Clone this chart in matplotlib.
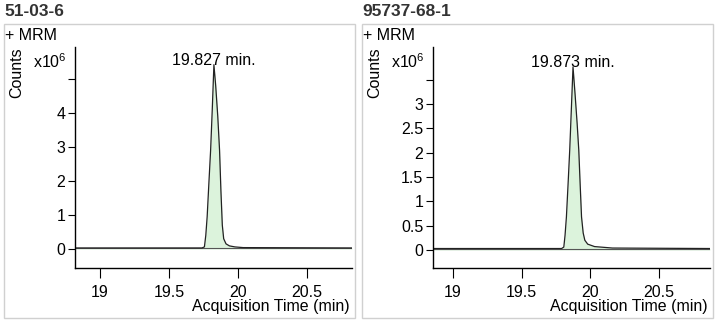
import numpy as np
import matplotlib.pyplot as plt
from matplotlib.patches import Rectangle

# data (intensity in units of 1e6 counts)
titles = ["51-03-6", "95737-68-1"]
rt_labels = ["19.827 min.", "19.873 min."]

t_a = [18.82, 19.74, 19.758, 19.768, 19.778, 19.79, 19.803, 19.815, 19.827, 19.84,
       19.855, 19.868, 19.878, 19.888, 19.898, 19.915, 19.94, 19.98, 20.04, 20.83]
i_a = [0.03, 0.03, 0.06, 0.4, 0.95, 1.9, 2.9, 4.1, 5.42, 4.8,
       3.9, 2.9, 1.7, 0.7, 0.3, 0.15, 0.09, 0.06, 0.04, 0.03]

t_b = [18.85, 19.79, 19.806, 19.815, 19.825, 19.837, 19.849, 19.861, 19.873, 19.888,
       19.903, 19.915, 19.925, 19.935, 19.947, 19.959, 19.98, 20.03, 20.16, 20.87]
i_b = [0.03, 0.03, 0.06, 0.3, 0.68, 1.35, 2.05, 2.9, 3.76, 3.2,
       2.6, 2.05, 1.35, 0.68, 0.35, 0.2, 0.12, 0.07, 0.04, 0.03]

yticks_a = [0, 1, 2, 3, 4, 5]
ylabels_a = ["0", "1", "2", "3", "4", ""]
yticks_b = [0, 0.5, 1, 1.5, 2, 2.5, 3, 3.5]
ylabels_b = ["0", "0.5", "1", "1.5", "2", "2.5", "3", ""]
xticks = [19, 19.5, 20, 20.5]
xlabels = ["19", "19.5", "20", "20.5"]

plt.rcParams['font.family'] = ['Liberation Sans', 'DejaVu Sans']
plt.rcParams['mathtext.fontset'] = 'custom'
plt.rcParams['mathtext.rm'] = 'Liberation Sans'
FS = 11.5

W, H = 717, 323
fig = plt.figure(figsize=(W / 100, H / 100), dpi=100)


def fx(px):
    return px / W


def fy(py):
    return 1 - py / H


panels = [
    dict(x0=4, ax_left=75, ax_right=352, t=t_a, i=i_a, xlim=(18.818, 20.83), ylim=(-0.56, 5.94),
         yt=yticks_a, yl=ylabels_a),
    dict(x0=362, ax_left=433, ax_right=710, t=t_b, i=i_b, xlim=(18.854, 20.87), ylim=(-0.37, 4.17),
         yt=yticks_b, yl=ylabels_b),
]

for k, p in enumerate(panels):
    x0 = p['x0']
    # рамка панели и подписи
    fig.patches.append(Rectangle((fx(x0), fy(318)), fx(351), 294 / H, transform=fig.transFigure,
                                 fill=False, edgecolor='#d0d0d0', linewidth=1))
    fig.text(fx(x0), fy(12), titles[k], fontsize=12.5, fontweight='bold', color='#333333',
             va='center', ha='left')
    fig.text(fx(x0 + 1), fy(36), "+ MRM", fontsize=FS, va='center', ha='left')
    fig.text(fx(x0 + 13), fy(73), "Counts", fontsize=FS, rotation=90, va='center', ha='center')
    fig.text(fx(x0 + 29), fy(62), r"x10$\mathregular{^{6}}$", fontsize=FS, va='center', ha='left')

    ax = fig.add_axes([fx(p['ax_left']), fy(268), fx(p['ax_right'] - p['ax_left']), (268 - 47) / H])
    t = np.array(p['t'])
    i = np.array(p['i'])
    ax.fill_between(t, 0, i, color='#dcf3dc', linewidth=0)
    ax.plot(t, i, color='#222222', linewidth=0.9)
    ax.plot(p['xlim'], [0.03, 0.03], color='#555555', linewidth=0.8, zorder=1)

    ax.set_xlim(*p['xlim'])
    ax.set_ylim(*p['ylim'])
    ax.set_xticks(xticks)
    ax.set_xticklabels(xlabels)
    ax.set_yticks(p['yt'])
    ax.set_yticklabels(p['yl'])
    ax.tick_params(labelsize=FS, length=5, width=0.8, pad=2)
    ax.tick_params(axis='x', length=7, pad=5)
    for s in ['top', 'right']:
        ax.spines[s].set_visible(False)
    for s in ['left', 'bottom']:
        ax.spines[s].set_linewidth(1)
    ax.patch.set_alpha(0)

    pk = int(np.argmax(i))
    ax.annotate(rt_labels[k], (t[pk], i[pk]), xytext=(0, 3), textcoords='offset points',
                ha='center', va='center', fontsize=FS)
    fig.text(fx(x0 + 346), fy(307), "Acquisition Time (min)", fontsize=FS, ha='right', va='center')

fig.savefig('out.png', dpi=100)
